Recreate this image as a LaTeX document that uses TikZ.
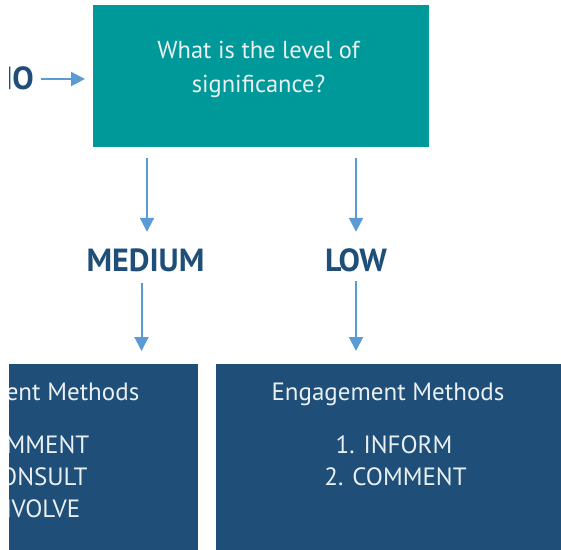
\documentclass[tikz,border=0pt]{standalone}
\usepackage{fontspec}
\setmainfont{PT Sans}
\usetikzlibrary{arrows.meta}
\definecolor{teal1}{HTML}{009999}
\definecolor{navy1}{HTML}{1F4E79}
\definecolor{arrowblue}{HTML}{5B9BD5}
\definecolor{boxtext}{HTML}{EAF0F2}
\tikzset{
  arr/.style={draw=arrowblue, line width=2pt, -{Triangle[length=14pt,width=14pt]}},
  lvl/.style={font=\fontsize{32}{36}\selectfont\bfseries, text=navy1, inner sep=0pt, text height=20pt, text depth=0pt},
  boxtxt/.style={font=\fontsize{25}{28}\selectfont, text=boxtext, inner sep=0pt},
}
\begin{document}
\begin{tikzpicture}[x=1pt,y=-1pt]
\useasboundingbox (0,0) rectangle (561,549);
\clip (9,0) rectangle (561,549);
% question box
\node[fill=teal1, minimum width=336pt, minimum height=142pt, inner sep=0pt, anchor=north west] (q) at (93,5) {};
\node[boxtxt, font=\fontsize{24.5}{28}\selectfont, anchor=base] (qt1) at (258.5,58) {What is the level of};
\node[boxtxt, font=\fontsize{24.5}{28}\selectfont, anchor=base] (qt2) at (258.5,92) {significance?};
% incoming label
\node[lvl, anchor=east] (no) at (34,79) {NO};
\draw[arr, shorten <=7pt, shorten >=8pt] (no.east) -- (no.east -| q.west);
% levels
\node[lvl] (med) at (145.5,261) {MEDIUM};
\node[lvl] (low) at (356,261) {LOW};
% bottom boxes
\node[fill=navy1, minimum width=189pt, minimum height=200pt, inner sep=0pt, anchor=north west] (mb) at (9,364) {};
\node[fill=navy1, minimum width=400pt, minimum height=200pt, inner sep=0pt, anchor=north west] (lb) at (216,364) {};
% arrows
\draw[arr, shorten <=11pt, shorten >=19pt] ([xshift=1.5pt]med.north |- q.south) -- ([xshift=1.5pt]med.north);
\draw[arr, shorten <=11pt, shorten >=19pt] (low.north |- q.south) -- (low.north);
\draw[arr, shorten <=12pt, shorten >=13pt] ([xshift=-4pt]med.south) -- ([xshift=-4pt]med.south |- mb.north);
\draw[arr, shorten <=10pt, shorten >=13pt] (low.south) -- (low.south |- lb.north);
% right box text
\node[boxtxt, anchor=base] (lt) at (388,400) {Engagement Methods};
\node[boxtxt, anchor=base] (l1) at (394,453) {1. INFORM};
\node[boxtxt, anchor=base] (l2) at (395.5,485) {2. COMMENT};
% left box text (clipped)
\begin{scope}
\clip (mb.north west) rectangle (mb.south east);
\node[boxtxt, anchor=base east] (mt) at (139.5,400) {Engagement Methods};
\node[boxtxt, anchor=base east] (m1) at (89.4,453) {1. COMMENT};
\node[boxtxt, anchor=base east] (m2) at (87.6,485) {2. CONSULT};
\node[boxtxt, anchor=base east] (m3) at (80.5,517) {3. INVOLVE};
\end{scope}
\end{tikzpicture}
\end{document}
